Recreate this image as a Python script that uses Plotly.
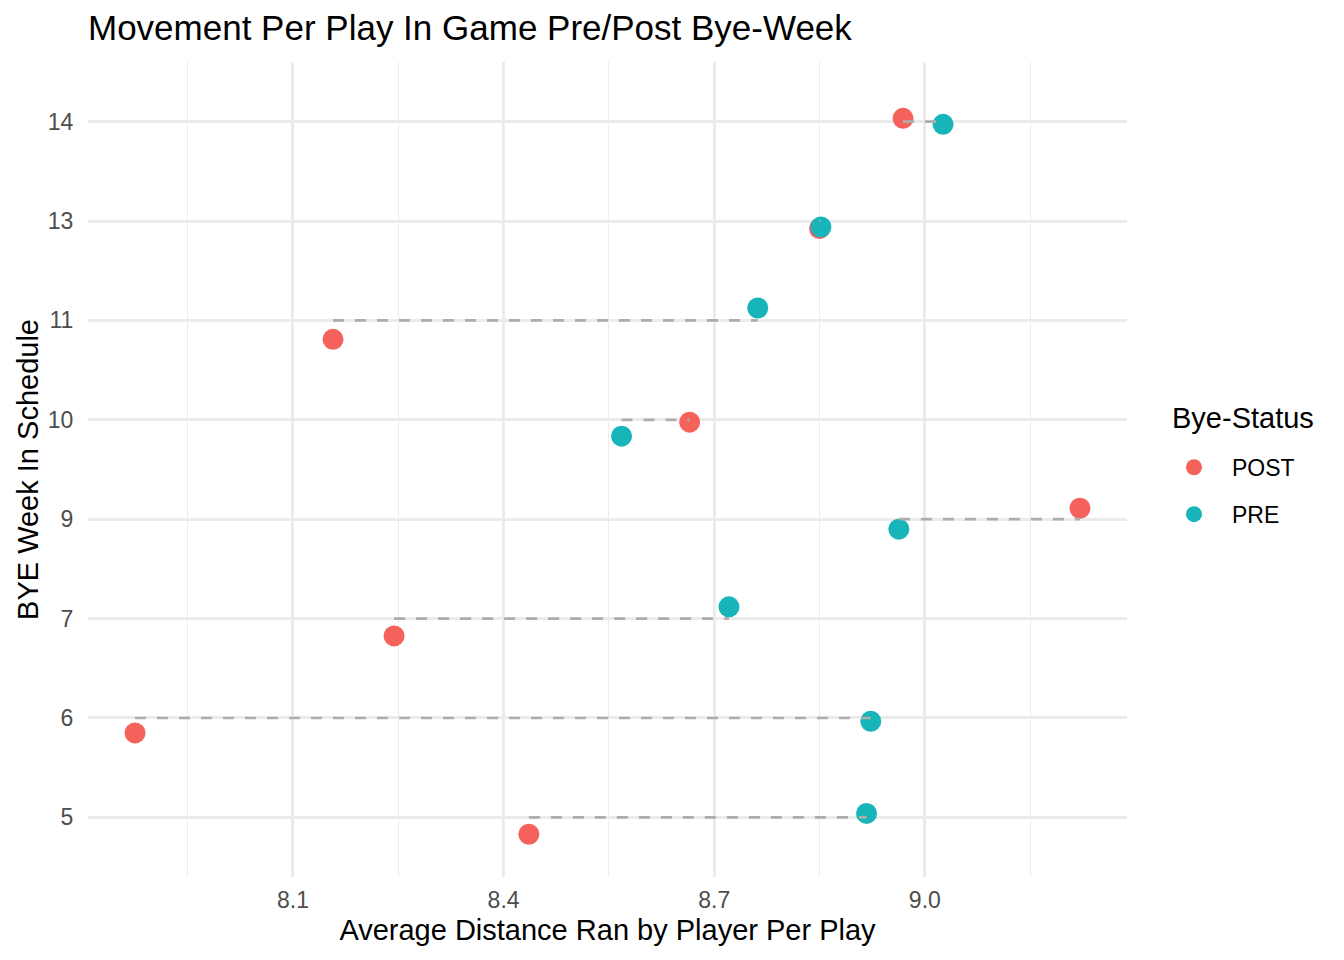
import plotly.graph_objects as go

# ---- data ----
weeks = ["5", "6", "7", "9", "10", "11", "13", "14"]          # bye week categories, bottom to top
post_x = [8.436, 7.875, 8.244, 9.221, 8.665, 8.157, 8.850, 8.969]   # POST bye avg distance
pre_x = [8.917, 8.923, 8.721, 8.963, 8.568, 8.762, 8.852, 9.026]    # PRE bye avg distance
post_jitter = [-0.17, -0.15, -0.174, 0.11, -0.024, -0.19, -0.075, 0.033]  # vertical jitter of POST dots
pre_jitter = [0.04, -0.033, 0.118, -0.10, -0.165, 0.125, -0.06, -0.027]   # vertical jitter of PRE dots
x_ticks = [8.1, 8.4, 8.7, 9.0]
x_tick_labels = ["8.1", "8.4", "8.7", "9.0"]
x_minor = [7.95, 8.25, 8.55, 8.85, 9.15]

POST_COL = "#F5615B"
PRE_COL = "#17B5BA"
FONT = "Liberation Sans, Arial, Helvetica, sans-serif"

pos = list(range(1, len(weeks) + 1))

fig = go.Figure()

fig.add_trace(go.Scatter(
    x=post_x, y=[p + j for p, j in zip(pos, post_jitter)],
    mode="markers", name="POST", legendgroup="post",
    marker=dict(color=POST_COL, size=21, line=dict(width=0))))
fig.add_trace(go.Scatter(
    x=pre_x, y=[p + j for p, j in zip(pos, pre_jitter)],
    mode="markers", name="PRE", legendgroup="pre",
    marker=dict(color=PRE_COL, size=21, line=dict(width=0))))

# dashed connecting segments (drawn over the dots, as in the reference)
seg_x, seg_y = [], []
for p, a, b in zip(pos, post_x, pre_x):
    seg_x += [min(a, b), max(a, b), None]
    seg_y += [p, p, None]
fig.add_trace(go.Scatter(
    x=seg_x, y=seg_y, mode="lines",
    line=dict(color="#ADADAD", width=2.7, dash="11px,11px"),
    showlegend=False, hoverinfo="skip"))

W, H = 1336, 952          # page body adds an 8px offset
PL, PT, PW, PH = 80, 54, 1039, 815   # plot area inside the figure
fig.update_layout(
    width=W, height=H,
    margin=dict(l=PL, r=W - PL - PW, t=PT, b=H - PT - PH, autoexpand=False),
    paper_bgcolor="white", plot_bgcolor="white",
    font=dict(family=FONT, color="black"),
    title=dict(text="Movement Per Play In Game Pre/Post Bye-Week",
               font=dict(size=35, color="black", family=FONT),
               x=80 / W, xref="container", xanchor="left",
               y=1 - 20 / H, yref="container", yanchor="middle"),
    xaxis=dict(
        range=[7.808, 9.288], tickvals=x_ticks, ticktext=x_tick_labels,
        showgrid=True, gridcolor="#EBEBEB", gridwidth=2.7,
        zeroline=False, showline=False, automargin=False,
        ticks="outside", ticklen=2, tickcolor="rgba(0,0,0,0)",
        tickfont=dict(size=23, color="#4D4D4D"),
        minor=dict(tickvals=x_minor, showgrid=True, gridcolor="#EBEBEB", gridwidth=1.3, ticks=""),
        title=dict(text="Average Distance Ran by Player Per Play",
                   font=dict(size=29, color="black"), standoff=8),
    ),
    yaxis=dict(
        range=[0.4, 8.6], tickvals=pos, ticktext=weeks,
        showgrid=True, gridcolor="#EBEBEB", gridwidth=2.7,
        zeroline=False, showline=False, automargin=False,
        ticks="outside", ticklen=9, tickcolor="rgba(0,0,0,0)",
        tickfont=dict(size=23, color="#4D4D4D"),
        title=dict(text="BYE Week In Schedule",
                   font=dict(size=29, color="black"), standoff=0),
    ),
    legend=dict(
        font=dict(size=23, color="black"),
        x=(1156 - 88) / PW, xanchor="left", y=(877 - 445.8) / PH, yanchor="top",
        traceorder="grouped", tracegroupgap=14, itemwidth=66,
        itemsizing="trace", bgcolor="rgba(0,0,0,0)",
    ),
    annotations=[dict(
        text="Bye-Status", xref="paper", yref="paper",
        x=(1170 - 88) / PW, y=(877 - 418) / PH,
        xanchor="left", yanchor="middle", showarrow=False,
        font=dict(size=29, color="black", family=FONT),
    )],
)

fig.write_html("out.html")
